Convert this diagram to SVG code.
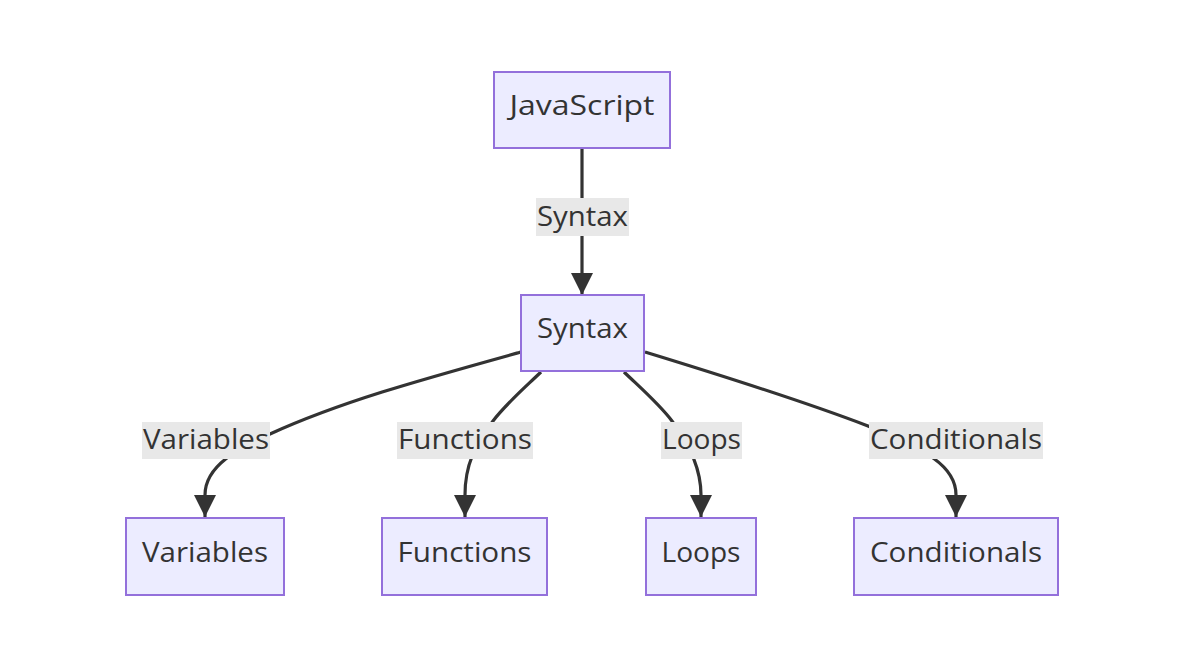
<svg xmlns="http://www.w3.org/2000/svg" width="1186" height="652" viewBox="0 0 1186 652">
<defs>
<style>
.node rect{fill:#ECECFF;stroke:#9370DB;stroke-width:2}
text{font-family:"Open Sans","DejaVu Sans",sans-serif;font-size:28px;fill:#333;text-anchor:middle}
.edge{fill:none;stroke:#333;stroke-width:3.2}
.lbl rect{fill:#e8e8e8}
</style>
<marker id="arrow" viewBox="0 0 10 10" refX="10" refY="5" markerUnits="userSpaceOnUse" markerWidth="22" markerHeight="22" orient="auto">
<path d="M0,0 L10,5 L0,10 z" fill="#333"/>
</marker>
</defs>
<rect width="1186" height="652" fill="#fff"/>
<g id="connectors">
<path class="edge" d="M582,148 L582,295" marker-end="url(#arrow)"/>
<path class="edge" d="M521,352 C420,380 340,402 270,434 C240,448 205,465 205,495 L205,517" marker-end="url(#arrow)"/>
<path class="edge" d="M541,372 C520,392 505,405 493,421 C475,445 465,465 465,495 L465,517" marker-end="url(#arrow)"/>
<path class="edge" d="M624,372 C645,392 660,405 672,421 C690,445 701,470 701,495 L701,517" marker-end="url(#arrow)"/>
<path class="edge" d="M645,352 C730,378 800,400 868,426 C910,445 956,460 956,495 L956,517" marker-end="url(#arrow)"/>
<g class="lbl"><rect x="536" y="198" width="93" height="38"/><text x="582.5" y="226" textLength="91" lengthAdjust="spacingAndGlyphs">Syntax</text></g>
<g class="lbl"><rect x="142" y="422" width="128" height="37"/><text x="206" y="449" textLength="126" lengthAdjust="spacingAndGlyphs">Variables</text></g>
<g class="lbl"><rect x="397" y="422" width="136" height="37"/><text x="465" y="449" textLength="134" lengthAdjust="spacingAndGlyphs">Functions</text></g>
<g class="lbl"><rect x="661" y="422" width="81" height="37"/><text x="701.5" y="449" textLength="79" lengthAdjust="spacingAndGlyphs">Loops</text></g>
<g class="lbl"><rect x="869" y="422" width="174" height="37"/><text x="956" y="449" textLength="172" lengthAdjust="spacingAndGlyphs">Conditionals</text></g>
</g>
<g id="JavaScript" class="node"><rect x="494" y="72" width="176" height="76"/><text x="582" y="115" textLength="145" lengthAdjust="spacingAndGlyphs">JavaScript</text></g>
<g id="Syntax" class="node"><rect x="521" y="295" width="123" height="76"/><text x="582.5" y="338" textLength="91" lengthAdjust="spacingAndGlyphs">Syntax</text></g>
<g id="Variables" class="node"><rect x="126" y="518" width="158" height="77"/><text x="205" y="562" textLength="126" lengthAdjust="spacingAndGlyphs">Variables</text></g>
<g id="Functions" class="node"><rect x="382" y="518" width="165" height="77"/><text x="464.5" y="562" textLength="134" lengthAdjust="spacingAndGlyphs">Functions</text></g>
<g id="Loops" class="node"><rect x="646" y="518" width="110" height="77"/><text x="701" y="562" textLength="79" lengthAdjust="spacingAndGlyphs">Loops</text></g>
<g id="Conditionals" class="node"><rect x="854" y="518" width="204" height="77"/><text x="956" y="562" textLength="172" lengthAdjust="spacingAndGlyphs">Conditionals</text></g>
</svg>
